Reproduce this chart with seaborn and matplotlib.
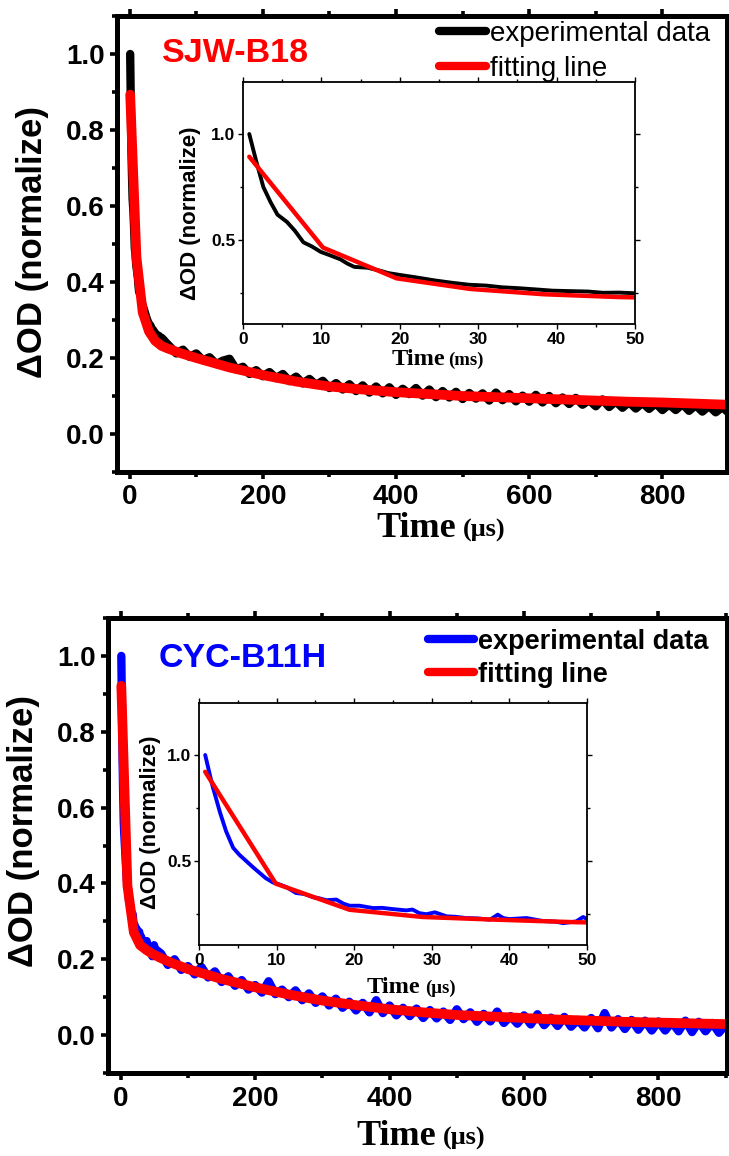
import matplotlib
matplotlib.use("Agg")
import matplotlib.pyplot as plt
import seaborn as sns
from matplotlib import font_manager
from matplotlib.lines import Line2D
from matplotlib.ticker import MultipleLocator

# ---------------- data ----------------
sjw_time_early = [0.8, 1.7, 2.6, 3.5, 4.4, 5.6, 6.6, 7.7, 8.8, 9.9, 11.0, 12.4, 13.3, 14.2, 15.9,
                  17.6, 18.5, 20.2, 22.0, 24.5, 26.5, 28.8, 31.0, 33.0, 35.0, 37.3, 39.5, 41.6,
                  44.0, 45.9, 48.0, 49.8, 55.0]
sjw_exp_early = [1.00, 0.87, 0.75, 0.68, 0.62, 0.586, 0.545, 0.49, 0.47, 0.445, 0.43, 0.41, 0.39,
                 0.374, 0.37, 0.355, 0.345, 0.335, 0.325, 0.31, 0.30, 0.29, 0.286, 0.278, 0.274,
                 0.268, 0.262, 0.26, 0.258, 0.252, 0.253, 0.25, 0.24]

late_time = [60, 70, 80, 90, 100, 110, 120, 130, 140, 150, 160, 170, 180, 190, 200, 210, 220, 230,
             240, 250, 260, 270, 280, 290, 300, 310, 320, 330, 340, 350, 360, 370, 380, 390, 400,
             410, 420, 430, 440, 450, 460, 470, 480, 490, 500, 510, 520, 530, 540, 550, 560, 570,
             580, 590, 600, 610, 620, 630, 640, 650, 660, 670, 680, 690, 700, 710, 720, 730, 740,
             750, 760, 770, 780, 790, 800, 810, 820, 830, 840, 850, 860, 870, 880, 890, 900]
sjw_exp_late = [0.231, 0.212, 0.222, 0.203, 0.212, 0.194, 0.202, 0.184, 0.193, 0.198,
                0.170, 0.177, 0.158, 0.168, 0.152, 0.163, 0.147, 0.158, 0.139, 0.151,
                0.133, 0.145, 0.129, 0.140, 0.121, 0.134, 0.117, 0.131, 0.113, 0.128,
                0.109, 0.125, 0.107, 0.123, 0.103, 0.119, 0.105, 0.121, 0.101, 0.117,
                0.097, 0.113, 0.096, 0.111, 0.092, 0.108, 0.093, 0.107, 0.088, 0.109,
                0.089, 0.105, 0.086, 0.101, 0.085, 0.103, 0.083, 0.100, 0.081, 0.096,
                0.079, 0.095, 0.077, 0.089, 0.073, 0.091, 0.071, 0.086, 0.069, 0.084,
                0.067, 0.082, 0.066, 0.081, 0.063, 0.078, 0.063, 0.079, 0.061, 0.076,
                0.059, 0.074, 0.057, 0.071, 0.055]

sjw_fit_time = [0.8, 10.2, 19.6, 29.0, 38.4, 47.8, 57.2, 66.6, 76.0, 100, 150, 200, 250, 300, 350,
                400, 450, 500, 550, 600, 650, 700, 750, 800, 850, 900]
sjw_fit = [0.893, 0.465, 0.32, 0.27, 0.245, 0.232, 0.225, 0.219, 0.213, 0.200, 0.175, 0.155, 0.138,
           0.125, 0.117, 0.110, 0.105, 0.100, 0.097, 0.094, 0.091, 0.088, 0.085, 0.083, 0.080, 0.077]

cyc_time_early = [0.8, 1.7, 2.7, 3.5, 4.4, 5.2, 6.1, 7.0, 7.8, 8.6, 9.5, 10.4, 11.3, 12.5, 13.6,
                  14.7, 15.5, 16.4, 17.7, 18.6, 19.4, 20.7, 22.4, 23.6, 25.0, 26.7, 27.5, 28.4,
                  29.3, 30.4, 31.9, 33.0, 34.4, 36.0, 37.5, 38.5, 39.2, 40.0, 42.2, 44.3, 46.0,
                  46.9, 48.6, 49.5, 50.0, 55.0]
cyc_exp_early = [1.00, 0.86, 0.73, 0.64, 0.563, 0.53, 0.50, 0.47, 0.445, 0.42, 0.40, 0.39, 0.377,
                 0.35, 0.345, 0.33, 0.325, 0.316, 0.319, 0.30, 0.29, 0.29, 0.279, 0.28, 0.274,
                 0.268, 0.272, 0.255, 0.25, 0.259, 0.24, 0.238, 0.232, 0.23, 0.224, 0.248, 0.232,
                 0.227, 0.232, 0.218, 0.215, 0.208, 0.216, 0.237, 0.227, 0.222]
cyc_exp_late = [0.215, 0.185, 0.200, 0.172, 0.182, 0.160, 0.180, 0.152, 0.168, 0.140,
                0.155, 0.130, 0.145, 0.120, 0.132, 0.112, 0.142, 0.108, 0.120, 0.100,
                0.118, 0.092, 0.110, 0.085, 0.102, 0.078, 0.096, 0.072, 0.088, 0.065,
                0.085, 0.060, 0.092, 0.058, 0.078, 0.052, 0.072, 0.050, 0.070, 0.045,
                0.066, 0.044, 0.062, 0.040, 0.068, 0.042, 0.060, 0.035, 0.056, 0.036,
                0.062, 0.032, 0.050, 0.030, 0.052, 0.028, 0.055, 0.026, 0.046, 0.024,
                0.048, 0.022, 0.040, 0.020, 0.045, 0.018, 0.058, 0.020, 0.042, 0.016,
                0.040, 0.014, 0.038, 0.012, 0.036, 0.012, 0.034, 0.010, 0.038, 0.008,
                0.035, 0.010, 0.032, 0.006, 0.028]

cyc_fit_time = [0.8, 9.9, 19.4, 28.8, 38.5, 48.0, 57.5, 67.0, 76.5, 100, 150, 200, 250, 300, 350,
                400, 450, 500, 550, 600, 650, 700, 750, 800, 850, 900]
cyc_fit = [0.921, 0.394, 0.271, 0.237, 0.224, 0.213, 0.205, 0.197, 0.190, 0.174, 0.148, 0.126,
           0.107, 0.091, 0.079, 0.068, 0.060, 0.053, 0.049, 0.045, 0.041, 0.038, 0.035, 0.033,
           0.031, 0.029]

main_xticks = [0, 200, 400, 600, 800]
main_xlabels = ["0", "200", "400", "600", "800"]
main_yticks = [0.0, 0.2, 0.4, 0.6, 0.8, 1.0]
main_ylabels = ["0.0", "0.2", "0.4", "0.6", "0.8", "1.0"]
inset_xticks = [0, 10, 20, 30, 40, 50]
inset_xlabels = ["0", "10", "20", "30", "40", "50"]
inset_yticks = [0.5, 1.0]
inset_ylabels = ["0.5", "1.0"]

legend_labels = ["experimental data", "fitting line"]

# ---------------- style ----------------
sns.set_style("ticks")


def has_font(name):
    try:
        font_manager.findfont(font_manager.FontProperties(family=name), fallback_to_default=False)
        return True
    except Exception:
        return False


SANS = "Liberation Sans"
SERIF = "Liberation Serif"
if has_font("Liberation Sans Narrow"):
    NARROW, TICK_SIZE, INSET_TICK = "Liberation Sans Narrow", 21.5, 13.5
else:
    NARROW, TICK_SIZE, INSET_TICK = "Liberation Sans", 20, 12.5
plt.rcParams["font.family"] = [SANS, "DejaVu Sans"]
plt.rcParams["lines.solid_capstyle"] = "round"
plt.rcParams["lines.solid_joinstyle"] = "round"
for key in ["text.color", "axes.labelcolor", "xtick.color", "ytick.color",
            "xtick.labelcolor", "ytick.labelcolor", "axes.edgecolor"]:
    plt.rcParams[key] = "black"

fig = plt.figure(figsize=(7.29, 11.56), dpi=100)

RED = "#ff0000"


def style_main(ax, xlim):
    ax.set_xlim(*xlim)
    ax.set_ylim(-0.1, 1.1)
    ax.set_xticks(main_xticks)
    ax.set_xticklabels(main_xlabels, family=NARROW, weight="bold", size=TICK_SIZE, color="black")
    ax.set_yticks(main_yticks)
    ax.set_yticklabels(main_ylabels, family=NARROW, weight="bold", size=TICK_SIZE, color="black")
    ax.xaxis.set_minor_locator(MultipleLocator(100))
    ax.yaxis.set_minor_locator(MultipleLocator(0.1))
    for s in ax.spines.values():
        s.set_visible(True)
        s.set_linewidth(3.6)
        s.set_color("black")
    ax.tick_params(which="both", direction="out", top=True, right=True, width=2.6,
                   color="black", labeltop=False, labelright=False)
    ax.tick_params(which="major", length=5, pad=4)
    ax.tick_params(which="minor", length=3.5)
    ax.set_xlabel("")
    ax.set_ylabel("")


def style_inset(ax):
    ax.set_xlim(0, 50)
    ax.set_ylim(0.105, 1.245)
    ax.set_xticks(inset_xticks)
    ax.set_xticklabels(inset_xlabels, family=NARROW, weight="bold", size=INSET_TICK, color="black")
    ax.set_yticks(inset_yticks)
    ax.set_yticklabels(inset_ylabels, family=NARROW, weight="bold", size=INSET_TICK, color="black")
    ax.xaxis.set_minor_locator(MultipleLocator(5))
    ax.yaxis.set_minor_locator(MultipleLocator(0.25))
    for s in ax.spines.values():
        s.set_visible(True)
        s.set_linewidth(1.3)
        s.set_color("black")
    ax.tick_params(which="both", direction="out", top=True, right=True, width=1.0,
                   color="black", labeltop=False, labelright=False)
    ax.tick_params(which="major", length=3.5, pad=2)
    ax.tick_params(which="minor", length=2.5)
    ax.set_xlabel("")
    ax.set_ylabel("")
    ax.set_facecolor("white")


def draw_lines(ax, t_exp, v_exp, color, t_fit, v_fit, lw_exp, lw_fit):
    sns.lineplot(x=t_exp, y=v_exp, ax=ax, color=color, lw=lw_exp, sort=False,
                 estimator=None, legend=False)
    sns.lineplot(x=t_fit, y=v_fit, ax=ax, color=RED, lw=lw_fit, sort=False,
                 estimator=None, legend=False)


def panel(rect_main, rect_inset, t_exp, v_exp, color, t_fit, v_fit, xlim, title, title_pos,
          legend_anchor, legend_bold, legend_spacing, ylabel_pos, xlabel_pos, inset_ylabel_pos,
          inset_xlabel_pos, inset_unit):
    ax = fig.add_axes(rect_main)
    draw_lines(ax, t_exp, v_exp, color, t_fit, v_fit, 6.0, 7.0)
    style_main(ax, xlim)
    ax.text(title_pos[0], title_pos[1], title, transform=ax.transAxes, ha="left",
            va="baseline", color=color if color != "black" else RED, weight="bold",
            size=24.5, family=SANS)
    ax.text(ylabel_pos[0], ylabel_pos[1], "ΔOD (normalize)", transform=ax.transAxes,
            rotation=90, ha="center", va="center", weight="bold", size=25, family=SANS)
    ax.text(xlabel_pos[0], xlabel_pos[2], "Time", transform=ax.transAxes, ha="right",
            va="baseline", weight="bold", size=26, family=SERIF)
    ax.text(xlabel_pos[1], xlabel_pos[2], "(μs)", transform=ax.transAxes, ha="left",
            va="baseline", weight="bold", size=19, family=SERIF)
    handles = [Line2D([], [], color=color, lw=6, solid_capstyle="round"),
               Line2D([], [], color=RED, lw=6, solid_capstyle="round")]
    ax.legend(handles, legend_labels, loc="upper left", bbox_to_anchor=legend_anchor,
              frameon=False, borderpad=0, borderaxespad=0, handlelength=1.7,
              handletextpad=0.15, labelspacing=legend_spacing,
              prop=dict(family=SANS, size=19.5 if legend_bold else 20,
                        weight="bold" if legend_bold else "normal"))

    axi = fig.add_axes(rect_inset)
    draw_lines(axi, t_exp, v_exp, color, t_fit, v_fit, 2.8, 3.2)
    style_inset(axi)
    axi.text(inset_ylabel_pos[0], inset_ylabel_pos[1], "ΔOD (normalize)",
             transform=axi.transAxes, rotation=90, ha="center", va="center",
             weight="bold", size=16, family=SANS)
    axi.text(inset_xlabel_pos[0], inset_xlabel_pos[2], "Time", transform=axi.transAxes,
             ha="right", va="baseline", weight="bold", size=17.5, family=SERIF)
    axi.text(inset_xlabel_pos[1], inset_xlabel_pos[2], inset_unit, transform=axi.transAxes,
             ha="left", va="baseline", weight="bold", size=13.5, family=SERIF)
    return ax, axi


W, H = 729.0, 1156.0


def rect(left, right, top, bottom):
    return [left / W, 1 - bottom / H, (right - left) / W, (bottom - top) / H]


panel(rect(117, 727, 16, 472), rect(243, 635, 82, 324),
      sjw_time_early + late_time, sjw_exp_early + sjw_exp_late, "black",
      sjw_fit_time, sjw_fit, (-19, 897), "SJW-B18", (0.074, 0.899),
      (0.528, 0.989), False, 0.33, (-0.138, 0.504), (0.556, 0.567, -0.1425),
      (-0.135, 0.459), (0.515, 0.523, -0.169), "(ms)")

panel(rect(108, 727, 618, 1073), rect(199, 587, 703, 945),
      cyc_time_early + late_time, cyc_exp_early + cyc_exp_late, "#0000ff",
      cyc_fit_time, cyc_fit, (-19, 902), "CYC-B11H", (0.081, 0.892),
      (0.517, 0.976), True, 0.26, (-0.136, 0.532), (0.530, 0.541, -0.158),
      (-0.124, 0.508), (0.570, 0.582, -0.198), "(μs)")

fig.savefig("out.png", dpi=100)
